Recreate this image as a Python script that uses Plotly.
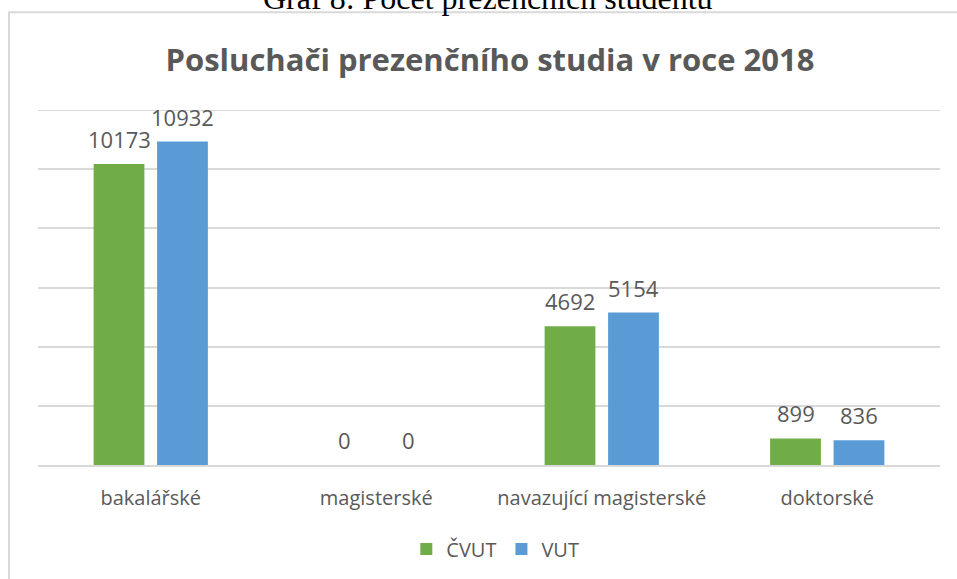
import plotly.graph_objects as go

# Data
categories = ['bakalářské', 'magisterské', 'navazující magisterské', 'doktorské']
cvut = [10173, 0, 4692, 899]
vut = [10932, 0, 5154, 836]

GREEN = '#70AD47'
BLUE = '#5B9BD5'
TEXT = '#595959'
GRID = '#D9D9D9'
FONT = 'Open Sans'

fig = go.Figure()

fig.add_trace(go.Bar(
    x=categories, y=cvut, name='ČVUT',
    marker=dict(color=GREEN, line=dict(width=0)),
    hoverinfo='none'
))
fig.add_trace(go.Bar(
    x=categories, y=vut, name='VUT',
    marker=dict(color=BLUE, line=dict(width=0)),
    hoverinfo='none'
))

# value labels, placed a bit higher above the bars than plotly's own
labels = []
for vals, shift in [(cvut, -31.75), (vut, 31.75)]:
    for cat, v in zip(categories, vals):
        labels.append(dict(x=cat, y=v, xref='x', yref='y', text=str(v),
                           showarrow=False, xshift=shift, yshift=25,
                           yanchor='middle',
                           font=dict(family=FONT, size=22, color=TEXT)))

labels.append(dict(text='Graf 8: Počet prezenčních studentů',
                   xref='paper', yref='paper',
                   x=(488 - 38) / 902, xanchor='center',
                   y=(466 - 18) / 356, yanchor='bottom',
                   showarrow=False,
                   font=dict(family='Liberation Serif', size=32, color='black')))

# plot area is 38..940 px wide, 110..466 px tall
fig.update_layout(
    width=957, height=579,
    margin=dict(l=38, r=17, t=110, b=113),
    plot_bgcolor='white', paper_bgcolor='white',
    barmode='group', bargap=0.437, bargroupgap=0.2,
    title=dict(text='<b>Posluchači prezenčního studia v roce 2018</b>',
               x=0.512, xanchor='center', y=1 - 60 / 579, yanchor='middle',
               font=dict(family=FONT, size=31, color=TEXT)),
    legend=dict(orientation='h', x=0.507, xanchor='center',
                y=(466 - 549) / 356, yanchor='middle',
                font=dict(family=FONT, size=20, color=TEXT),
                itemwidth=30, traceorder='normal'),
    xaxis=dict(showline=True, linecolor=GRID, linewidth=2,
               tickfont=dict(family=FONT, size=20, color=TEXT),
               ticks='', ticklabelstandoff=14),
    yaxis=dict(range=[0, 12000], dtick=2000, showticklabels=False,
               gridcolor=GRID, gridwidth=2, zeroline=False),
    shapes=[dict(type='rect', xref='paper', yref='paper',
                 x0=(9 - 38) / 902, x1=(975 - 38) / 902,
                 y0=(466 - 600) / 356, y1=(466 - 12) / 356,
                 line=dict(color=GRID, width=2), layer='below'),
            # top gridline at 12000 sits on the plot edge
            dict(type='line', xref='paper', yref='y', x0=0, x1=1,
                 y0=12000, y1=12000, line=dict(color=GRID, width=2),
                 layer='below')],
    annotations=labels
)

fig.write_html('out.html', config={'displayModeBar': False},
               post_script="document.body.style.margin='0';")
